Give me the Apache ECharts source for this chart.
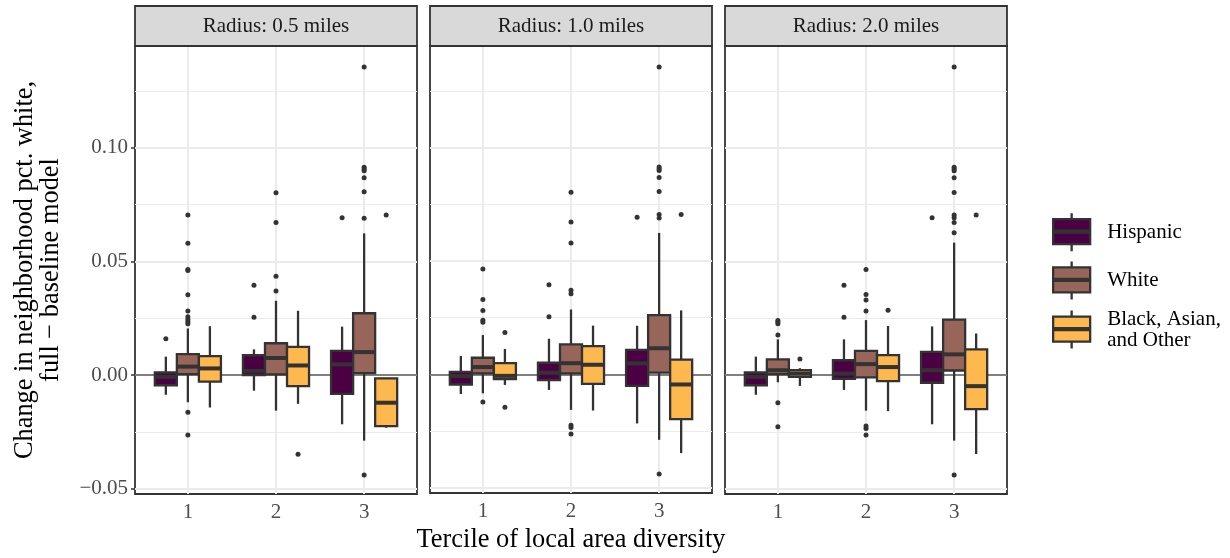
<!DOCTYPE html>
<html><head><meta charset="utf-8">
<script src="https://cdn.jsdelivr.net/npm/echarts@6/dist/echarts.min.js"></script>
<style>html,body{margin:0;padding:0;background:#fff}#c{width:1230px;height:558px}</style>
</head><body><div id="c"></div><script>
// ---------- data ----------
const panelTitles = ['Radius: 0.5 miles', 'Radius: 1.0 miles', 'Radius: 2.0 miles'];
const terciles = [1, 2, 3];
const groupNames = ['Hispanic', 'White', 'Black, Asian,\nand Other'];
const yTickValues = [-0.05, 0, 0.05, 0.1];
const yMinorValues = [-0.025, 0.025, 0.075, 0.125];
const xTitle = 'Tercile of local area diversity';
const yTitle = 'Change in neighborhood pct. white,\nfull \u2212 baseline model';

// box stats per tercile: [lower whisker, q1, median, q3, upper whisker]
const hisp05 = [[-0.0087, -0.0045, -0.0008, 0.0011, 0.0081], [-0.0069, 0.0000, 0.0018, 0.0087, 0.0113], [-0.0217, -0.0083, 0.0047, 0.0106, 0.0213]];
const white05 = [[-0.0120, 0.0004, 0.0037, 0.0092, 0.0205], [-0.0157, 0.0003, 0.0075, 0.0140, 0.0327], [-0.0289, 0.0008, 0.0101, 0.0272, 0.0624]];
const other05 = [[-0.0143, -0.0029, 0.0029, 0.0083, 0.0215], [-0.0127, -0.0049, 0.0042, 0.0124, 0.0283], [-0.0232, -0.0225, -0.0122, -0.0015, -0.0015]];
const hisp10 = [[-0.0087, -0.0045, -0.0008, 0.0011, 0.0081], [-0.0069, -0.0026, 0.0007, 0.0051, 0.0157], [-0.0217, -0.0051, 0.0048, 0.0108, 0.0214]];
const white10 = [[-0.0084, 0.0004, 0.0032, 0.0073, 0.0173], [-0.0157, 0.0004, 0.0049, 0.0132, 0.0286], [-0.0289, 0.0007, 0.0115, 0.0261, 0.0624]];
const other10 = [[-0.0047, -0.0021, -0.0007, 0.0049, 0.0112], [-0.0160, -0.0042, 0.0042, 0.0124, 0.0215], [-0.0348, -0.0198, -0.0045, 0.0065, 0.0282]];
const hisp20 = [[-0.0087, -0.0045, -0.0008, 0.0011, 0.0081], [-0.0066, -0.0017, 0.0006, 0.0065, 0.0157], [-0.0217, -0.0034, 0.0021, 0.0102, 0.0214]];
const white20 = [[-0.0032, 0.0004, 0.0021, 0.0069, 0.0157], [-0.0157, -0.0010, 0.0048, 0.0106, 0.0242], [-0.0289, 0.0020, 0.0091, 0.0244, 0.0583]];
const other20 = [[-0.0048, -0.0008, 0.0006, 0.0021, 0.0030], [-0.0159, -0.0027, 0.0035, 0.0088, 0.0216], [-0.0348, -0.0150, -0.0049, 0.0113, 0.0183]];

// outliers: [tercile, value]
const hisp05Out = [[1, 0.0160], [2, 0.0395], [2, 0.0254], [3, 0.0693]];
const white05Out = [[1, 0.0705], [1, 0.0580], [1, 0.0465], [1, 0.0460], [1, 0.0354], [1, 0.0282], [1, 0.0257], [1, 0.0245], [1, 0.0235], [1, 0.0226], [1, -0.0164], [1, -0.0264], [2, 0.0803], [2, 0.0672], [2, 0.0435], [2, 0.0370], [3, 0.1356], [3, 0.0915], [3, 0.0907], [3, 0.0900], [3, 0.0869], [3, 0.0807], [3, 0.0690], [3, -0.0440]];
const other05Out = [[2, -0.0349], [3, 0.0705]];
const hisp10Out = [[2, 0.0395], [2, 0.0254], [3, 0.0693]];
const white10Out = [[1, 0.0465], [1, 0.0330], [1, 0.0282], [1, 0.0238], [1, 0.0230], [1, -0.0122], [2, 0.0803], [2, 0.0672], [2, 0.0580], [2, 0.0371], [2, 0.0355], [2, -0.0225], [2, -0.0235], [2, -0.0264], [3, 0.1356], [3, 0.0915], [3, 0.0907], [3, 0.0900], [3, 0.0869], [3, 0.0807], [3, 0.0705], [3, 0.0690], [3, -0.0440]];
const other10Out = [[1, 0.0184], [1, -0.0146], [3, 0.0705]];
const hisp20Out = [[2, 0.0395], [2, 0.0254], [3, 0.0693]];
const white20Out = [[1, 0.0240], [1, 0.0233], [1, 0.0226], [1, 0.0176], [1, -0.0122], [1, -0.0228], [2, 0.0465], [2, 0.0355], [2, 0.0330], [2, 0.0282], [2, -0.0225], [2, -0.0235], [2, -0.0264], [3, 0.1356], [3, 0.0915], [3, 0.0907], [3, 0.0900], [3, 0.0869], [3, 0.0804], [3, 0.0705], [3, 0.0693], [3, 0.0672], [3, 0.0627], [3, -0.0440]];
const other20Out = [[1, 0.0070], [2, 0.0285], [3, 0.0705]];

const boxStats = [[hisp05, white05, other05], [hisp10, white10, other10], [hisp20, white20, other20]];
const outlierSets = [[hisp05Out, white05Out, other05Out], [hisp10Out, white10Out, other10Out], [hisp20Out, white20Out, other20Out]];

// ---------- style / layout ----------
const FONT = 'Liberation Serif';
const groupColors = ['#4B0044', '#98655A', '#FFB84E'];
const groupOffsets = [-0.25, 0, 0.25];
const boxW = 0.25;
const gridLefts = [135, 430, 725];
const gridW = 282, gridTop = 46, gridH = 448;
const yMin = -0.0524, yMax = 0.1449;
const DARK = '#333333';

function fmt(v) {
  const s = Math.abs(v).toFixed(2);
  return v < -1e-9 ? '\u2212' + s : s;
}

const grid = [], xAxis = [], yAxis = [], series = [], graphic = [];
gridLefts.forEach((l, p) => {
  grid.push({left: l, top: gridTop, width: gridW, height: gridH, show: true,
    backgroundColor: '#fff', borderColor: DARK, borderWidth: 1.8, containLabel: false});
  xAxis.push({type: 'value', gridIndex: p, min: 0.4, max: 3.6,
    axisLine: {show: false},
    axisTick: {show: true, customValues: terciles, length: 4, lineStyle: {color: DARK, width: 1.5}},
    axisLabel: {customValues: terciles, color: '#4D4D4D', fontSize: 21, fontFamily: FONT, margin: 8},
    splitLine: {show: true, lineStyle: {color: '#EBEBEB', width: 2}},
    name: p === 1 ? xTitle : '', nameLocation: 'middle', nameGap: 34,
    nameTextStyle: {fontSize: 26.4, color: '#000', fontFamily: FONT}});
  graphic.push({type: 'rect', shape: {x: l, y: 6, width: gridW, height: 40},
    style: {fill: '#D9D9D9', stroke: DARK, lineWidth: 1.8}, z: 10});
  graphic.push({type: 'text', x: l + gridW / 2, y: 26, z: 11,
    style: {text: panelTitles[p], fill: '#1A1A1A', font: '21px "Liberation Serif"', textAlign: 'center', textVerticalAlign: 'middle'}});
});
gridLefts.forEach((l, p) => {
  yAxis.push({type: 'value', gridIndex: p, min: yMin, max: yMax,
    axisLine: {show: false},
    axisTick: {show: p === 0, customValues: yTickValues, length: 4, lineStyle: {color: DARK, width: 1.5}},
    axisLabel: {show: p === 0, customValues: yTickValues, formatter: fmt, color: '#4D4D4D', fontSize: 21, fontFamily: FONT, margin: 7},
    splitLine: {show: true, lineStyle: {color: '#EBEBEB', width: 2}},
    name: p === 0 ? yTitle : '', nameLocation: 'middle', nameRotate: 90, nameGap: 71,
    nameTextStyle: {fontSize: 26.4, lineHeight: 26, color: '#000', fontFamily: FONT}});
});
gridLefts.forEach((l, p) => {
  yAxis.push({type: 'value', gridIndex: p, min: yMin, max: yMax, position: 'right',
    axisLine: {show: false}, axisTick: {show: false, customValues: yMinorValues},
    axisLabel: {show: false, customValues: yMinorValues},
    splitLine: {show: true, lineStyle: {color: '#EBEBEB', width: 1}}});
});

function makeRender(color) {
  return function (params, api) {
    const x = api.value(0);
    const lo = api.coord([x, api.value(1)]);
    const q1 = api.coord([x, api.value(2)]);
    const md = api.coord([x, api.value(3)]);
    const q3 = api.coord([x, api.value(4)]);
    const hi = api.coord([x, api.value(5)]);
    const w = api.size([boxW, 0])[0];
    const cx = lo[0];
    const ls = {stroke: DARK, lineWidth: 2.3};
    return {type: 'group', children: [
      {type: 'line', shape: {x1: cx, y1: hi[1], x2: cx, y2: q3[1]}, style: ls},
      {type: 'line', shape: {x1: cx, y1: q1[1], x2: cx, y2: lo[1]}, style: ls},
      {type: 'rect', shape: {x: cx - w / 2, y: q3[1], width: w, height: q1[1] - q3[1]},
        style: {fill: color, stroke: DARK, lineWidth: 2.3}},
      {type: 'line', shape: {x1: cx - w / 2, y1: md[1], x2: cx + w / 2, y2: md[1]},
        style: {stroke: DARK, lineWidth: 4}}
    ]};
  };
}

for (let p = 0; p < 3; p++) {
  series.push({type: 'line', xAxisIndex: p, yAxisIndex: p, data: [], silent: true,
    markLine: {silent: true, z: 1, symbol: ['none', 'none'], label: {show: false},
      lineStyle: {color: '#808080', width: 2, type: 'solid'}, data: [{yAxis: 0}]}});
  for (let g = 0; g < 3; g++) {
    series.push({type: 'custom', name: groupNames[g], xAxisIndex: p, yAxisIndex: p, z: 3,
      itemStyle: {color: groupColors[g]},
      encode: {x: 0, y: [1, 2, 3, 4, 5]},
      data: boxStats[p][g].map((s, i) => [terciles[i] + groupOffsets[g]].concat(s)),
      renderItem: makeRender(groupColors[g])});
  }
  const pts = [];
  for (let g = 0; g < 3; g++) {
    outlierSets[p][g].forEach(o => pts.push([o[0] + groupOffsets[g], o[1]]));
  }
  series.push({type: 'scatter', xAxisIndex: p, yAxisIndex: p, z: 4, data: pts,
    symbolSize: 5, itemStyle: {color: DARK, opacity: 1}, silent: true});
}

const ICON = 'path://M0,6 L37,6 L37,31 L0,31 Z M18.5,0 L18.5,6 M18.5,31 L18.5,38 M0,17.5 L37,17.5 M0,19.5 L37,19.5';

const chart = echarts.init(document.getElementById('c'), null, {renderer: 'canvas'});
chart.setOption({
  animation: false,
  backgroundColor: '#fff',
  grid, xAxis, yAxis, series, graphic,
  legend: {orient: 'vertical', left: 1052, top: 212, padding: 0, itemGap: 8,
    itemWidth: 37, itemHeight: 38, selectedMode: false,
    textStyle: {fontFamily: FONT, fontSize: 21, color: '#000', lineHeight: 21, padding: [0, 0, 0, 12]},
    data: groupNames.map((n, i) => ({name: n, icon: ICON,
      itemStyle: {color: groupColors[i], borderColor: DARK, borderWidth: 2.3}}))}
});
</script></body></html>
